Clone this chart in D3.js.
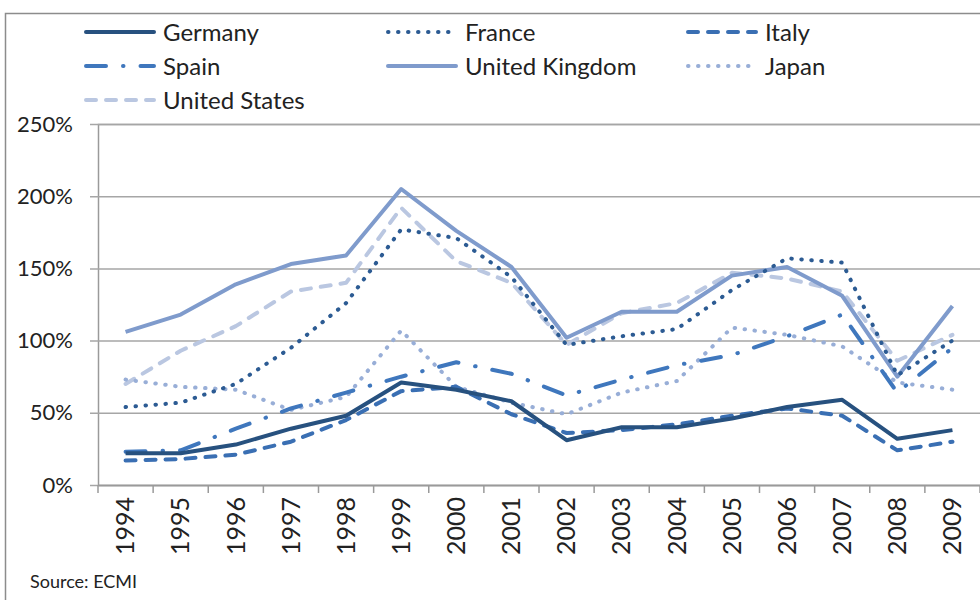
<!DOCTYPE html>
<html>
<head>
<meta charset="utf-8">
<script src="https://cdn.jsdelivr.net/npm/d3@7"></script>
<style>
  body { margin: 0; background: #fff; }
  text { font-family: Lato, "Open Sans", sans-serif; fill: #222; }
</style>
</head>
<body>
<svg id="chart" width="980" height="600"></svg>
<script>
var years = ["1994","1995","1996","1997","1998","1999","2000","2001","2002","2003","2004","2005","2006","2007","2008","2009"];
var germany = [22, 22, 28, 39, 48, 71, 66, 58, 31, 40, 40, 46, 54, 59, 32, 38];
var france  = [54, 57, 70, 95, 126, 177, 171, 144, 97, 103, 108, 135, 157, 154, 76, 100];
var italy   = [17, 18, 21, 30, 45, 65, 68, 49, 36, 38, 42, 48, 53, 48, 24, 30];
var spain   = [23, 24, 39, 53, 64, 75, 85, 77, 62, 73, 83, 90, 103, 118, 64, 95];
var uk      = [106, 118, 139, 153, 159, 205, 176, 151, 102, 120, 120, 145, 151, 131, 75, 124];
var japan   = [73, 68, 66, 52, 61, 107, 68, 57, 49, 64, 72, 109, 104, 96, 71, 66];
var us      = [70, 93, 110, 134, 140, 192, 155, 140, 97, 119, 126, 147, 143, 134, 86, 104];
var yTicks = [0, 50, 100, 150, 200, 250];

var series = [
  {name: "Germany", values: germany, color: "#27517f", dash: null},
  {name: "France", values: france, color: "#2c5b93", dash: "0.5 9.5"},
  {name: "Italy", values: italy, color: "#3a6fb3", dash: "10 10"},
  {name: "Spain", values: spain, color: "#3f77bd", dash: "20 17 0.5 17"},
  {name: "United Kingdom", values: uk, color: "#7f9bcc", dash: null},
  {name: "Japan", values: japan, color: "#98aed7", dash: "0.5 9.5"},
  {name: "United States", values: us, color: "#bac7e1", dash: "10 10"}
];

var margin = {top: 124, right: 0, bottom: 115, left: 98};
var width = 980 - margin.left - margin.right;
var height = 600 - margin.top - margin.bottom;

var svg = d3.select("#chart");

// outer chart frame
svg.append("rect")
  .attr("x", 5.5).attr("y", 13.5)
  .attr("width", 990).attr("height", 600)
  .attr("fill", "none")
  .attr("stroke", "#8c8c8c")
  .attr("stroke-width", 1.5);

var x = d3.scaleBand().domain(years).range([0, width]);
var y = d3.scaleLinear().domain([0, 250]).range([height, 0]);

var chart = svg.append("g")
  .attr("transform", "translate(" + margin.left + "," + margin.top + ")");

// y axis with gridlines
var yAxis = d3.axisLeft(y)
  .tickValues(yTicks)
  .tickSize(-width)
  .tickPadding(25)
  .tickFormat(function(d) { return d + "%"; });

var yg = chart.append("g").attr("class", "y axis").call(yAxis);
yg.select(".domain").attr("stroke", "#9a9a9a").attr("stroke-width", 1.5);
yg.selectAll(".tick line")
  .attr("x1", -8)
  .attr("stroke", "#a6a6a6")
  .attr("stroke-width", 1.5);
yg.selectAll(".tick text")
  .style("font-size", "22px")
  .style("fill", "#222");

// x axis labels
var xAxis = d3.axisBottom(x).tickSize(0).tickPadding(0);
var xg = chart.append("g")
  .attr("class", "x axis")
  .attr("transform", "translate(0," + height + ")")
  .call(xAxis);
xg.select(".domain").attr("stroke", "#9a9a9a").attr("stroke-width", 1.5);
xg.selectAll(".tick text")
  .attr("transform", "rotate(-90)")
  .attr("x", -12)
  .attr("y", 0)
  .attr("dy", "0.35em")
  .style("text-anchor", "end")
  .style("font-size", "25px")
  .style("fill", "#222");

// x tick marks between categories
chart.append("g").selectAll("line")
  .data(years.concat(["end"]))
  .enter().append("line")
  .attr("x1", function(d, i) { return i < years.length ? x(d) : width; })
  .attr("x2", function(d, i) { return i < years.length ? x(d) : width; })
  .attr("y1", height)
  .attr("y2", height + 8)
  .attr("stroke", "#9a9a9a")
  .attr("stroke-width", 1.5);

var line = d3.line()
  .x(function(d, i) { return x(years[i]) + x.bandwidth() / 2; })
  .y(function(d) { return y(d); });

// draw back to front so Germany ends on top
series.slice().reverse().forEach(function(s) {
  chart.append("path")
    .datum(s.values)
    .attr("fill", "none")
    .attr("stroke", s.color)
    .attr("stroke-width", 4)
    .attr("stroke-linecap", s.dash ? "round" : "butt")
    .attr("stroke-linejoin", "round")
    .attr("stroke-dasharray", s.dash)
    .attr("d", line);
});

// legend
var legendX = [84, 386, 686];
var legendY = [32, 66, 100];
var legend = svg.append("g").attr("class", "legend");
series.forEach(function(s, i) {
  var lx = legendX[i % 3], ly = legendY[Math.floor(i / 3)];
  legend.append("line")
    .attr("x1", lx + 2).attr("x2", lx + 70)
    .attr("y1", ly).attr("y2", ly)
    .attr("stroke", s.color)
    .attr("stroke-width", 4)
    .attr("stroke-linecap", "round")
    .attr("stroke-dasharray", s.dash);
  legend.append("text")
    .attr("x", lx + 79)
    .attr("y", ly)
    .attr("dy", "0.36em")
    .style("font-size", "24px")
    .text(s.name);
});

svg.append("text")
  .attr("x", 30)
  .attr("y", 588)
  .style("font-size", "18px")
  .text("Source: ECMI");
</script>
</body>
</html>
